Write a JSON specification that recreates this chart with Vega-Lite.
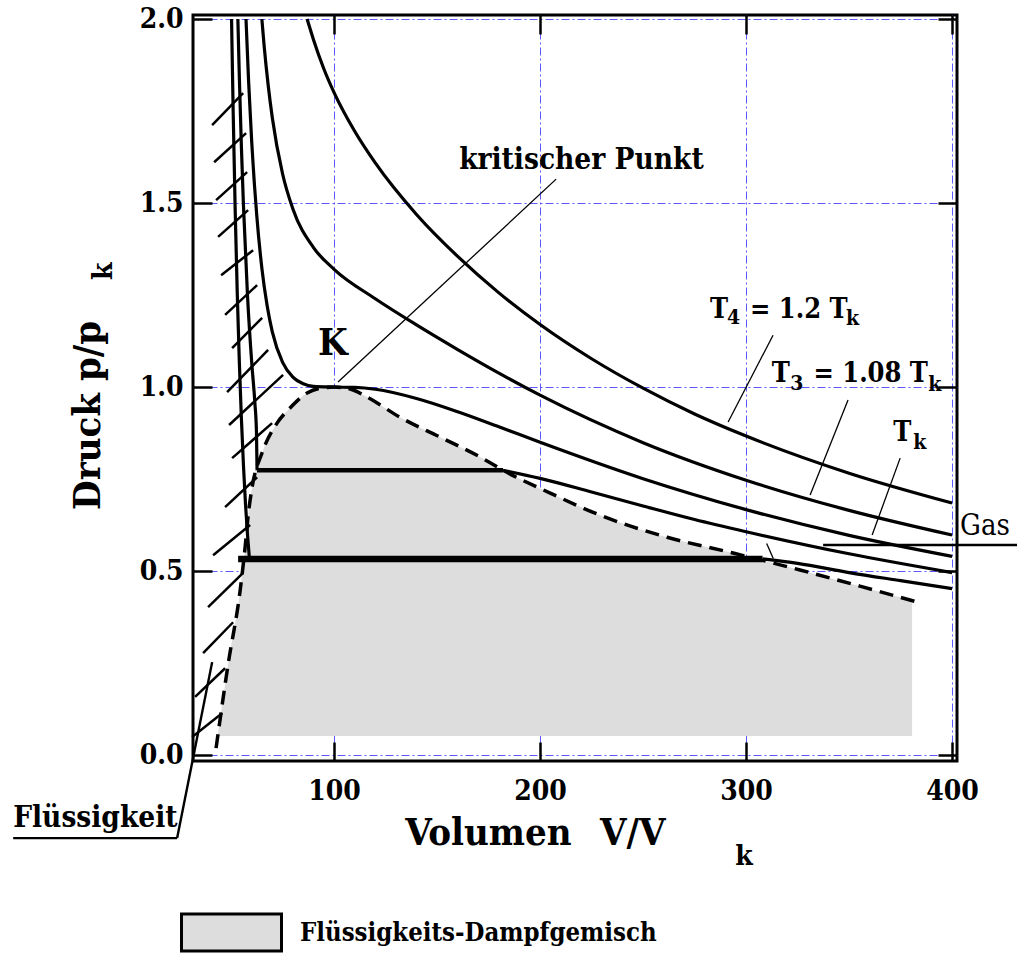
{
  "$schema": "https://vega.github.io/schema/vega-lite/v6.json",
  "width": 764,
  "height": 746,
  "autosize": {"type": "none"},
  "padding": {"left": 193, "top": 15, "right": 60, "bottom": 195},
  "background": "white",
  "config": {
    "view": {"stroke": "black", "strokeWidth": 3},
    "font": "DejaVu Serif Condensed, DejaVu Serif",
    "axis": {
      "domain": false,
      "gridColor": "#5a5aff",
      "gridDash": [8, 3, 2, 3],
      "gridWidth": 1,
      "gridOpacity": 1,
      "tickColor": "black",
      "tickSize": -19,
      "tickWidth": 2.5,
      "labelFont": "DejaVu Serif Condensed, DejaVu Serif",
      "labelFontSize": 28,
      "labelFontWeight": "bold",
      "labelColor": "black",
      "title": null
    },
    "legend": {
      "labelFont": "DejaVu Serif Condensed, DejaVu Serif"
    }
  },
  "datasets": {
    "iso": [
      {"s": "T4", "v": 86.9, "p": 2.0}, {"s": "T4", "v": 90, "p": 1.944}, {"s": "T4", "v": 95, "p": 1.865}, {"s": "T4", "v": 100, "p": 1.8}, {"s": "T4", "v": 110, "p": 1.695}, {"s": "T4", "v": 120, "p": 1.609}, {"s": "T4", "v": 140, "p": 1.469}, {"s": "T4", "v": 160, "p": 1.355}, {"s": "T4", "v": 180, "p": 1.256}, {"s": "T4", "v": 200, "p": 1.17}, {"s": "T4", "v": 225, "p": 1.077}, {"s": "T4", "v": 250, "p": 0.997}, {"s": "T4", "v": 275, "p": 0.927}, {"s": "T4", "v": 300, "p": 0.867}, {"s": "T4", "v": 350, "p": 0.766}, {"s": "T4", "v": 400, "p": 0.685},
      {"s": "T3", "v": 64.93, "p": 2.0}, {"s": "T3", "v": 66, "p": 1.929}, {"s": "T3", "v": 68, "p": 1.82}, {"s": "T3", "v": 70, "p": 1.732}, {"s": "T3", "v": 75, "p": 1.579}, {"s": "T3", "v": 80, "p": 1.484}, {"s": "T3", "v": 90, "p": 1.379}, {"s": "T3", "v": 100, "p": 1.32}, {"s": "T3", "v": 120, "p": 1.24}, {"s": "T3", "v": 140, "p": 1.169}, {"s": "T3", "v": 160, "p": 1.102}, {"s": "T3", "v": 180, "p": 1.038}, {"s": "T3", "v": 200, "p": 0.978}, {"s": "T3", "v": 250, "p": 0.849}, {"s": "T3", "v": 300, "p": 0.747}, {"s": "T3", "v": 350, "p": 0.665}, {"s": "T3", "v": 400, "p": 0.598},
      {"s": "Tk", "v": 57.23, "p": 2.0}, {"s": "Tk", "v": 58.5, "p": 1.83}, {"s": "Tk", "v": 60, "p": 1.667}, {"s": "Tk", "v": 62.5, "p": 1.463}, {"s": "Tk", "v": 65, "p": 1.32}, {"s": "Tk", "v": 67.5, "p": 1.221}, {"s": "Tk", "v": 70, "p": 1.15}, {"s": "Tk", "v": 75, "p": 1.067}, {"s": "Tk", "v": 80, "p": 1.027}, {"s": "Tk", "v": 85, "p": 1.009}, {"s": "Tk", "v": 90, "p": 1.002}, {"s": "Tk", "v": 100, "p": 1.0}, {"s": "Tk", "v": 110, "p": 0.999}, {"s": "Tk", "v": 120, "p": 0.994}, {"s": "Tk", "v": 140, "p": 0.969}, {"s": "Tk", "v": 160, "p": 0.933}, {"s": "Tk", "v": 180, "p": 0.892}, {"s": "Tk", "v": 200, "p": 0.85}, {"s": "Tk", "v": 250, "p": 0.751}, {"s": "Tk", "v": 300, "p": 0.667}, {"s": "Tk", "v": 350, "p": 0.597}, {"s": "Tk", "v": 400, "p": 0.54},
      {"s": "L2", "v": 53.28, "p": 2.0}, {"s": "L2", "v": 54, "p": 1.841}, {"s": "L2", "v": 55, "p": 1.652}, {"s": "L2", "v": 56, "p": 1.493}, {"s": "L2", "v": 58, "p": 1.244}, {"s": "L2", "v": 60, "p": 1.067}, {"s": "L2", "v": 61.5, "p": 0.96}, {"s": "L2", "v": 62.3, "p": 0.88}, {"s": "L2", "v": 62.6, "p": 0.774},
      {"s": "G2", "v": 182, "p": 0.774}, {"s": "G2", "v": 200, "p": 0.752}, {"s": "G2", "v": 225, "p": 0.715}, {"s": "G2", "v": 250, "p": 0.677}, {"s": "G2", "v": 275, "p": 0.64}, {"s": "G2", "v": 300, "p": 0.607}, {"s": "G2", "v": 350, "p": 0.547}, {"s": "G2", "v": 400, "p": 0.496},
      {"s": "L1", "v": 50.22, "p": 2.0}, {"s": "L1", "v": 50.5, "p": 1.906}, {"s": "L1", "v": 51, "p": 1.749}, {"s": "L1", "v": 52, "p": 1.476}, {"s": "L1", "v": 53, "p": 1.252}, {"s": "L1", "v": 54, "p": 1.067}, {"s": "L1", "v": 55, "p": 0.914}, {"s": "L1", "v": 56, "p": 0.787}, {"s": "L1", "v": 57, "p": 0.681}, {"s": "L1", "v": 58, "p": 0.596}, {"s": "L1", "v": 58.9, "p": 0.533},
      {"s": "G1", "v": 308, "p": 0.533}, {"s": "G1", "v": 325, "p": 0.521}, {"s": "G1", "v": 350, "p": 0.496}, {"s": "G1", "v": 375, "p": 0.474}, {"s": "G1", "v": 400, "p": 0.4525}
    ],
    "plateau1": [{"v": 62.6, "p": 0.774, "v2": 182}],
    "plateau2": [{"v": 53.4, "p": 0.533, "v2": 308}],
    "binodal": [
      {"v": 42.7, "p": 0.019}, {"v": 48.5, "p": 0.245}, {"v": 54.4, "p": 0.448}, {"v": 56.8, "p": 0.565}, {"v": 58.3, "p": 0.652}, {"v": 60.2, "p": 0.728}, {"v": 65.0, "p": 0.821}, {"v": 72.3, "p": 0.902}, {"v": 78.6, "p": 0.943}, {"v": 86.9, "p": 0.984}, {"v": 93.2, "p": 0.997}, {"v": 100, "p": 1.0}, {"v": 107.8, "p": 0.995}, {"v": 116, "p": 0.973}, {"v": 132, "p": 0.918}, {"v": 151.5, "p": 0.864}, {"v": 170.9, "p": 0.81}, {"v": 182, "p": 0.774}, {"v": 204.9, "p": 0.712}, {"v": 229.1, "p": 0.652}, {"v": 261.7, "p": 0.592}, {"v": 293.7, "p": 0.549}, {"v": 326.2, "p": 0.503}, {"v": 355.3, "p": 0.459}, {"v": 383, "p": 0.416}
    ],
    "gray": [
      {"phase": "Flüssigkeits-Dampfgemisch", "v": 43.5, "p": 0.052}, {"phase": "Flüssigkeits-Dampfgemisch", "v": 48.5, "p": 0.245}, {"phase": "Flüssigkeits-Dampfgemisch", "v": 54.4, "p": 0.448}, {"phase": "Flüssigkeits-Dampfgemisch", "v": 56.8, "p": 0.565}, {"phase": "Flüssigkeits-Dampfgemisch", "v": 58.3, "p": 0.652}, {"phase": "Flüssigkeits-Dampfgemisch", "v": 60.2, "p": 0.728}, {"phase": "Flüssigkeits-Dampfgemisch", "v": 65.0, "p": 0.821}, {"phase": "Flüssigkeits-Dampfgemisch", "v": 72.3, "p": 0.902}, {"phase": "Flüssigkeits-Dampfgemisch", "v": 78.6, "p": 0.943}, {"phase": "Flüssigkeits-Dampfgemisch", "v": 86.9, "p": 0.984}, {"phase": "Flüssigkeits-Dampfgemisch", "v": 93.2, "p": 0.997}, {"phase": "Flüssigkeits-Dampfgemisch", "v": 100, "p": 1.0}, {"phase": "Flüssigkeits-Dampfgemisch", "v": 107.8, "p": 0.995}, {"phase": "Flüssigkeits-Dampfgemisch", "v": 116, "p": 0.973}, {"phase": "Flüssigkeits-Dampfgemisch", "v": 132, "p": 0.918}, {"phase": "Flüssigkeits-Dampfgemisch", "v": 151.5, "p": 0.864}, {"phase": "Flüssigkeits-Dampfgemisch", "v": 170.9, "p": 0.81}, {"phase": "Flüssigkeits-Dampfgemisch", "v": 182, "p": 0.774}, {"phase": "Flüssigkeits-Dampfgemisch", "v": 204.9, "p": 0.712}, {"phase": "Flüssigkeits-Dampfgemisch", "v": 229.1, "p": 0.652}, {"phase": "Flüssigkeits-Dampfgemisch", "v": 261.7, "p": 0.592}, {"phase": "Flüssigkeits-Dampfgemisch", "v": 293.7, "p": 0.549}, {"phase": "Flüssigkeits-Dampfgemisch", "v": 326.2, "p": 0.503}, {"phase": "Flüssigkeits-Dampfgemisch", "v": 355.3, "p": 0.459}, {"phase": "Flüssigkeits-Dampfgemisch", "v": 380.6, "p": 0.42}
    ],
    "hatch": [
      {"v": 40.78, "p": 1.712, "v2": 55.83, "p2": 1.799},
      {"v": 41.75, "p": 1.611, "v2": 57.28, "p2": 1.69},
      {"v": 42.72, "p": 1.508, "v2": 57.77, "p2": 1.584},
      {"v": 43.69, "p": 1.408, "v2": 58.25, "p2": 1.481},
      {"v": 45.15, "p": 1.304, "v2": 60.68, "p2": 1.372},
      {"v": 47.09, "p": 1.196, "v2": 62.62, "p2": 1.277},
      {"v": 50.49, "p": 1.106, "v2": 65.05, "p2": 1.188},
      {"v": 48.06, "p": 0.986, "v2": 67.96, "p2": 1.101},
      {"v": 49.03, "p": 0.897, "v2": 75.24, "p2": 1.033},
      {"v": 50.49, "p": 0.807, "v2": 69.9, "p2": 0.902},
      {"v": 47.09, "p": 0.674, "v2": 62.62, "p2": 0.755},
      {"v": 41.26, "p": 0.543, "v2": 59.22, "p2": 0.625},
      {"v": 38.83, "p": 0.402, "v2": 55.83, "p2": 0.495},
      {"v": 36.41, "p": 0.277, "v2": 50.97, "p2": 0.361},
      {"v": 32.52, "p": 0.158, "v2": 47.09, "p2": 0.236},
      {"v": 31.07, "p": 0.049, "v2": 45.63, "p2": 0.114}
    ],
    "leaders": [
      {"v": 207.8, "p": 1.565, "v2": 101.9, "p2": 1.014},
      {"v": 313.1, "p": 1.141, "v2": 291.3, "p2": 0.905},
      {"v": 349.5, "p": 0.965, "v2": 331.1, "p2": 0.707},
      {"v": 374.8, "p": 0.807, "v2": 361.2, "p2": 0.598},
      {"v": 310.0, "p": 0.575, "v2": 313.2, "p2": 0.534}
    ],
    "thickLeaders": [
      {"v": 337.4, "p": 0.571, "v2": 431.6, "p2": 0.571},
      {"v": -55.8, "p": -0.2255, "v2": 23.8, "p2": -0.2255},
      {"v": 23.8, "p": -0.2255, "v2": 40.8, "p2": 0.2527}
    ],
    "labels": [
      {"v": 282.5, "p": 1.1875, "t": "T"},
      {"v": 301.9, "p": 1.1875, "t": "= 1.2 T"},
      {"v": 312.5, "p": 1.0144, "t": "T"},
      {"v": 332.7, "p": 1.0144, "t": "= 1.08 T"},
      {"v": 371.5, "p": 0.853, "t": "T"}
    ],
    "labelsWide": [
      {"v": 160.7, "p": 1.592, "t": "kritischer Punkt"},
      {"v": -55.8, "p": -0.1957, "t": "Flüssigkeit"}
    ],
    "subs": [
      {"v": 290.8, "p": 1.171, "t": "4"},
      {"v": 348.5, "p": 1.168, "t": "k"},
      {"v": 321.4, "p": 0.992, "t": "3"},
      {"v": 388.5, "p": 0.989, "t": "k"},
      {"v": 381.2, "p": 0.833, "t": "k"}
    ],
    "bigK": [{"v": 92.2, "p": 1.087, "t": "K"}],
    "gas": [{"v": 403.9, "p": 0.598, "t": "Gas"}],
    "xtitle": [{"v": 134.5, "p": -0.2446, "t": "Volumen"}, {"v": 229.1, "p": -0.2446, "t": "V/V"}],
    "xtitleSub": [{"v": 294.7, "p": -0.299, "t": "k"}],
    "ytitle": [{"v": -13.6, "p": 0.666, "t": "Druck  p/p"}],
    "ytitleSub": [{"v": -7.8, "p": 1.291, "t": "k"}]
  },
  "layer": [
    {
      "data": {"name": "gray"},
      "mark": {"type": "area", "interpolate": "monotone", "opacity": 1},
      "encoding": {
        "x": {"field": "v", "type": "quantitative", "scale": {"domain": [31.5, 402.4], "nice": false, "zero": false},
              "axis": {"orient": "bottom", "values": [100, 200, 300, 400], "format": "d", "grid": true, "labelPadding": 35}},
        "y": {"field": "p", "type": "quantitative", "scale": {"domain": [-0.016, 2.011], "nice": false, "zero": false},
              "axis": {"orient": "left", "values": [0, 0.5, 1, 1.5, 2], "format": ".1f", "grid": true, "labelPadding": 29}},
        "y2": {"datum": 0.052},
        "color": {"field": "phase", "type": "nominal", "scale": {"range": ["#dddddd"]},
                  "legend": {"orient": "none", "legendX": -13, "legendY": 866, "title": null, "padding": 0,
                             "symbolType": "M-1,-0.37H1V0.37H-1Z", "symbolSize": 10000,
                             "symbolStrokeColor": "black", "symbolStrokeWidth": 3, "symbolOpacity": 1,
                             "labelFontSize": 25.5, "labelFontWeight": "bold", "labelColor": "black", "labelOffset": 17, "labelLimit": 0,
                             "encode": {"symbols": {"update": {"stroke": {"value": "black"}, "strokeWidth": {"value": 3}, "fill": {"value": "#dddddd"}, "opacity": {"value": 1}}}}}}
      }
    },
    {
      "data": {"name": "binodal"},
      "mark": {"type": "line", "interpolate": "monotone", "color": "black", "strokeWidth": 3.5, "strokeDash": [14, 8]},
      "encoding": {
        "x": {"field": "v", "type": "quantitative", "scale": {"domain": [31.5, 402.4], "nice": false, "zero": false},
              "axis": {"orient": "top", "values": [100, 200, 300, 400], "labels": false, "grid": false}},
        "y": {"field": "p", "type": "quantitative", "scale": {"domain": [-0.016, 2.011], "nice": false, "zero": false},
              "axis": {"orient": "right", "values": [0, 0.5, 1, 1.5, 2], "labels": false, "grid": false}}
      }
    },
    {
      "data": {"name": "iso"},
      "mark": {"type": "line", "interpolate": "monotone", "color": "black", "strokeWidth": 3.2},
      "encoding": {
        "x": {"field": "v", "type": "quantitative", "scale": {"domain": [31.5, 402.4], "nice": false, "zero": false}, "axis": null},
        "y": {"field": "p", "type": "quantitative", "scale": {"domain": [-0.016, 2.011], "nice": false, "zero": false}, "axis": null},
        "detail": {"field": "s", "type": "nominal"}
      }
    },
    {
      "data": {"name": "plateau1"},
      "mark": {"type": "rule", "color": "black", "strokeWidth": 4.5},
      "encoding": {
        "x": {"field": "v", "type": "quantitative", "scale": {"domain": [31.5, 402.4], "nice": false, "zero": false}, "axis": null},
        "x2": {"field": "v2"},
        "y": {"field": "p", "type": "quantitative", "scale": {"domain": [-0.016, 2.011], "nice": false, "zero": false}, "axis": null}
      }
    },
    {
      "data": {"name": "plateau2"},
      "mark": {"type": "rule", "color": "black", "strokeWidth": 6.5},
      "encoding": {
        "x": {"field": "v", "type": "quantitative", "scale": {"domain": [31.5, 402.4], "nice": false, "zero": false}, "axis": null},
        "x2": {"field": "v2"},
        "y": {"field": "p", "type": "quantitative", "scale": {"domain": [-0.016, 2.011], "nice": false, "zero": false}, "axis": null}
      }
    },
    {
      "data": {"name": "hatch"},
      "mark": {"type": "rule", "color": "black", "strokeWidth": 2.5},
      "encoding": {
        "x": {"field": "v", "type": "quantitative", "scale": {"domain": [31.5, 402.4], "nice": false, "zero": false}, "axis": null},
        "x2": {"field": "v2"},
        "y": {"field": "p", "type": "quantitative", "scale": {"domain": [-0.016, 2.011], "nice": false, "zero": false}, "axis": null},
        "y2": {"field": "p2"}
      }
    },
    {
      "data": {"name": "leaders"},
      "mark": {"type": "rule", "color": "black", "strokeWidth": 1.3},
      "encoding": {
        "x": {"field": "v", "type": "quantitative", "scale": {"domain": [31.5, 402.4], "nice": false, "zero": false}, "axis": null},
        "x2": {"field": "v2"},
        "y": {"field": "p", "type": "quantitative", "scale": {"domain": [-0.016, 2.011], "nice": false, "zero": false}, "axis": null},
        "y2": {"field": "p2"}
      }
    },
    {
      "data": {"name": "thickLeaders"},
      "mark": {"type": "rule", "color": "black", "strokeWidth": 2.4, "clip": false},
      "encoding": {
        "x": {"field": "v", "type": "quantitative", "scale": {"domain": [31.5, 402.4], "nice": false, "zero": false}, "axis": null},
        "x2": {"field": "v2"},
        "y": {"field": "p", "type": "quantitative", "scale": {"domain": [-0.016, 2.011], "nice": false, "zero": false}, "axis": null},
        "y2": {"field": "p2"}
      }
    },
    {
      "data": {"name": "labels"},
      "mark": {"type": "text", "align": "left", "baseline": "alphabetic", "fontSize": 27, "fontWeight": "bold", "color": "black", "clip": false},
      "encoding": {
        "x": {"field": "v", "type": "quantitative", "scale": {"domain": [31.5, 402.4], "nice": false, "zero": false}, "axis": null},
        "y": {"field": "p", "type": "quantitative", "scale": {"domain": [-0.016, 2.011], "nice": false, "zero": false}, "axis": null},
        "text": {"field": "t"}
      }
    },
    {
      "data": {"name": "labelsWide"},
      "mark": {"type": "text", "align": "left", "baseline": "alphabetic", "fontSize": 29.5, "fontWeight": "bold", "color": "black", "clip": false},
      "encoding": {
        "x": {"field": "v", "type": "quantitative", "scale": {"domain": [31.5, 402.4], "nice": false, "zero": false}, "axis": null},
        "y": {"field": "p", "type": "quantitative", "scale": {"domain": [-0.016, 2.011], "nice": false, "zero": false}, "axis": null},
        "text": {"field": "t"}
      }
    },
    {
      "data": {"name": "subs"},
      "mark": {"type": "text", "align": "left", "baseline": "alphabetic", "fontSize": 21, "fontWeight": "bold", "color": "black", "clip": false},
      "encoding": {
        "x": {"field": "v", "type": "quantitative", "scale": {"domain": [31.5, 402.4], "nice": false, "zero": false}, "axis": null},
        "y": {"field": "p", "type": "quantitative", "scale": {"domain": [-0.016, 2.011], "nice": false, "zero": false}, "axis": null},
        "text": {"field": "t"}
      }
    },
    {
      "data": {"name": "bigK"},
      "mark": {"type": "text", "align": "left", "baseline": "alphabetic", "fontSize": 38, "fontWeight": "bold", "color": "black", "clip": false},
      "encoding": {
        "x": {"field": "v", "type": "quantitative", "scale": {"domain": [31.5, 402.4], "nice": false, "zero": false}, "axis": null},
        "y": {"field": "p", "type": "quantitative", "scale": {"domain": [-0.016, 2.011], "nice": false, "zero": false}, "axis": null},
        "text": {"field": "t"}
      }
    },
    {
      "data": {"name": "gas"},
      "mark": {"type": "text", "align": "left", "baseline": "alphabetic", "fontSize": 29, "fontWeight": "normal", "color": "black", "clip": false},
      "encoding": {
        "x": {"field": "v", "type": "quantitative", "scale": {"domain": [31.5, 402.4], "nice": false, "zero": false}, "axis": null},
        "y": {"field": "p", "type": "quantitative", "scale": {"domain": [-0.016, 2.011], "nice": false, "zero": false}, "axis": null},
        "text": {"field": "t"}
      }
    },
    {
      "data": {"name": "xtitle"},
      "mark": {"type": "text", "align": "left", "baseline": "alphabetic", "fontSize": 38, "fontWeight": "bold", "color": "black", "clip": false},
      "encoding": {
        "x": {"field": "v", "type": "quantitative", "scale": {"domain": [31.5, 402.4], "nice": false, "zero": false}, "axis": null},
        "y": {"field": "p", "type": "quantitative", "scale": {"domain": [-0.016, 2.011], "nice": false, "zero": false}, "axis": null},
        "text": {"field": "t"}
      }
    },
    {
      "data": {"name": "xtitleSub"},
      "mark": {"type": "text", "align": "left", "baseline": "alphabetic", "fontSize": 28, "fontWeight": "bold", "color": "black", "clip": false},
      "encoding": {
        "x": {"field": "v", "type": "quantitative", "scale": {"domain": [31.5, 402.4], "nice": false, "zero": false}, "axis": null},
        "y": {"field": "p", "type": "quantitative", "scale": {"domain": [-0.016, 2.011], "nice": false, "zero": false}, "axis": null},
        "text": {"field": "t"}
      }
    },
    {
      "data": {"name": "ytitle"},
      "mark": {"type": "text", "align": "left", "baseline": "alphabetic", "angle": 270, "fontSize": 38, "fontWeight": "bold", "color": "black", "clip": false},
      "encoding": {
        "x": {"field": "v", "type": "quantitative", "scale": {"domain": [31.5, 402.4], "nice": false, "zero": false}, "axis": null},
        "y": {"field": "p", "type": "quantitative", "scale": {"domain": [-0.016, 2.011], "nice": false, "zero": false}, "axis": null},
        "text": {"field": "t"}
      }
    },
    {
      "data": {"name": "ytitleSub"},
      "mark": {"type": "text", "align": "left", "baseline": "alphabetic", "angle": 270, "fontSize": 28, "fontWeight": "bold", "color": "black", "clip": false},
      "encoding": {
        "x": {"field": "v", "type": "quantitative", "scale": {"domain": [31.5, 402.4], "nice": false, "zero": false}, "axis": null},
        "y": {"field": "p", "type": "quantitative", "scale": {"domain": [-0.016, 2.011], "nice": false, "zero": false}, "axis": null},
        "text": {"field": "t"}
      }
    }
  ],
  "resolve": {"axis": {"x": "independent", "y": "independent"}}
}
